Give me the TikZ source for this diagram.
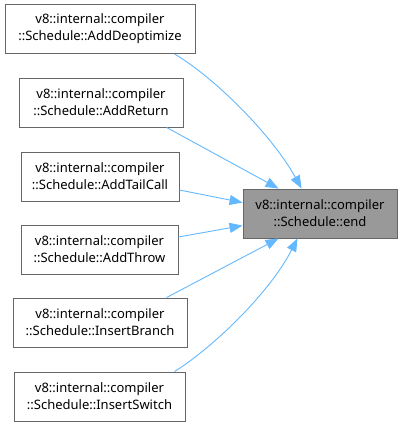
\documentclass[tikz,border=0pt]{standalone}
\usepackage{fontspec}
\setmainfont{Noto Sans}
\usetikzlibrary{arrows.meta}
\definecolor{edgeblue}{HTML}{63B8FF}
\definecolor{boxborder}{HTML}{666666}
\definecolor{targetfill}{HTML}{999999}
\tikzset{
  fn/.style={draw=boxborder, line width=0.9pt, fill=white, align=center,
    minimum height=49pt, inner sep=0pt, font=\fontsize{13}{17}\selectfont, text=black},
  target/.style={fn, fill=targetfill},
  callarrow/.style={draw=edgeblue, line width=0.9pt, -{Triangle[length=13pt,width=10pt]}},
}
\begin{document}
\begin{tikzpicture}[x=1pt,y=-1pt]
\useasboundingbox (0,0) rectangle (402,426);
\node[fn, minimum width=190pt] (b1) at (100,29) {v8::internal::compiler\\::Schedule::AddDeoptimize};
\node[fn, minimum width=164pt] (b2) at (101,102.5) {v8::internal::compiler\\::Schedule::AddReturn};
\node[fn, minimum width=158pt] (b3) at (100,176.5) {v8::internal::compiler\\::Schedule::AddTailCall};
\node[fn, minimum width=157pt] (b4) at (99.5,249.5) {v8::internal::compiler\\::Schedule::AddThrow};
\node[fn, minimum width=174pt] (b5) at (100,322.5) {v8::internal::compiler\\::Schedule::InsertBranch};
\node[fn, minimum width=171pt] (b6) at (99.5,396.5) {v8::internal::compiler\\::Schedule::InsertSwitch};
\node[target, minimum width=154pt] (t) at (320,213.5) {v8::internal::compiler\\::Schedule::end};

\draw[callarrow] ([xshift=170pt]b1.south west) .. controls (215,78) and (272,135) .. ([xshift=59pt]t.north west);
\draw[callarrow] ([xshift=148pt]b2.south west) -- ([xshift=36pt]t.north west);
\draw[callarrow] ([yshift=-13.5pt]b3.east) -- ([yshift=-14pt]t.north west);
\draw[callarrow] ([yshift=12.5pt]b4.east) -- ([yshift=-37pt]t.north west);
\draw[callarrow] ([xshift=154pt]b5.north west) -- ([xshift=36pt]t.south west);
\draw[callarrow] ([xshift=161pt]b6.north west) .. controls (215,346) and (270,292) .. ([xshift=55pt]t.south west);
\end{tikzpicture}
\end{document}
